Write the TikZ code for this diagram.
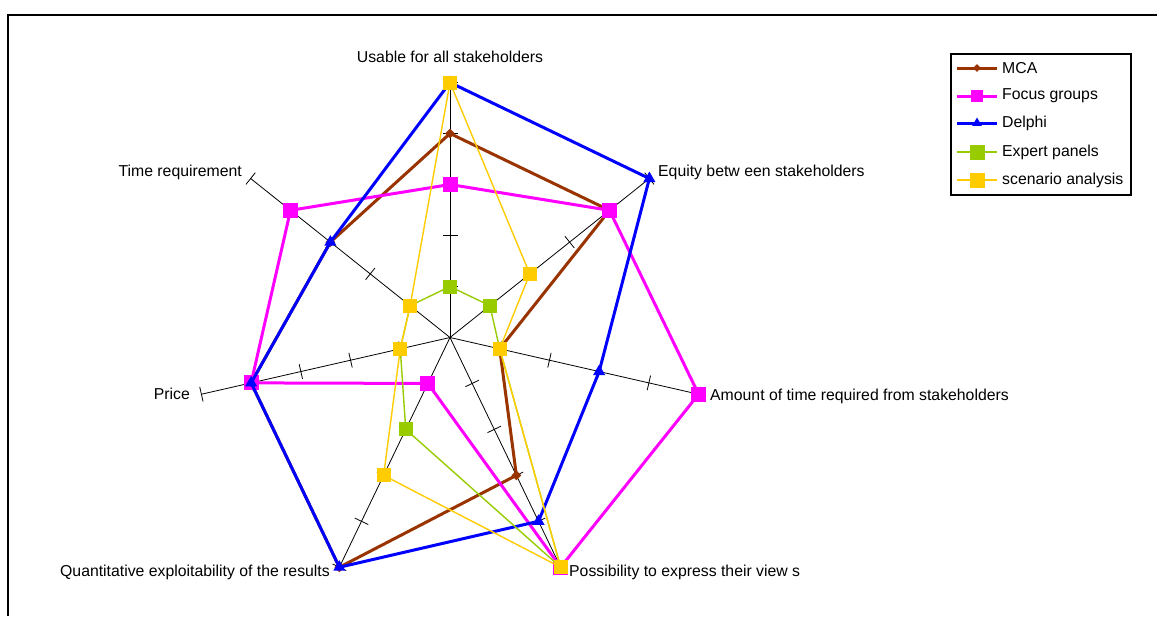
\documentclass[tikz,border=0pt]{standalone}
\usepackage{fontspec}
\setmainfont{Liberation Sans}
\usetikzlibrary{calc,shapes.geometric}
\definecolor{cmca}{RGB}{153,51,0}
\definecolor{cfocus}{RGB}{255,0,255}
\definecolor{cdelphi}{RGB}{0,0,255}
\definecolor{cexpert}{RGB}{153,204,0}
\definecolor{cscen}{RGB}{255,204,0}
\begin{document}
\begin{tikzpicture}[x=1pt,y=-1pt,
  font=\fontsize{15.8}{18}\selectfont,
  axisline/.style={black,line width=0.8pt},
  frameline/.style={black,line width=2pt},
  mcaline/.style={cmca,line width=3pt,line join=round},
  focusline/.style={cfocus,line width=3pt,line join=round},
  delphiline/.style={cdelphi,line width=3pt,line join=round},
  expertline/.style={cexpert,line width=1.4pt,line join=round},
  scenline/.style={cscen,line width=1.4pt,line join=round},
  mcamark/.style={diamond,fill=cmca,inner sep=0pt,minimum size=10pt},
  focusmark/.style={rectangle,fill=cfocus,inner sep=0pt,minimum size=15pt},
  delphimark/.style={regular polygon,regular polygon sides=3,fill=cdelphi,inner sep=0pt,minimum size=14pt},
  expertmark/.style={rectangle,fill=cexpert,inner sep=0pt,minimum size=14pt},
  scenmark/.style={rectangle,fill=cscen,inner sep=0pt,minimum size=14pt},
  legmca/.style={mcamark,minimum size=8pt},
  legfocus/.style={focusmark,minimum size=12pt},
  legdelphi/.style={delphimark,minimum size=11pt},
  legexpert/.style={expertmark,minimum size=15pt},
  legscen/.style={scenmark,minimum size=15pt},
  axislabel/.style={inner sep=0pt,text=black},
]
\useasboundingbox (0,0) rectangle (1157,616);
\fill[white] (0,0) rectangle (1157,616);
\draw[frameline] (8,616) -- (8,15) -- (1157,15);

\coordinate (C) at (450,337.5);
% axes and ticks
\foreach \k in {0,...,6}{
  \path (C) ++({\k*360/7-90}:255) coordinate (A\k);
  \draw[axisline] (C) -- (A\k);
  \foreach \v in {1,...,5}{
    \draw[axisline] ($(C)+({\k*360/7-90}:{\v*51})+({\k*360/7}:7.5)$) -- ($(C)+({\k*360/7-90}:{\v*51})+({\k*360/7-180}:7.5)$);
  }
}

% axis labels
\node[axislabel,anchor=base] (L0) at (450,62) {Usable for all stakeholders};
\node[axislabel,anchor=base west] (L1) at (658,176) {Equity betw een stakeholders};
\node[axislabel,anchor=base west] (L2) at (710,400) {Amount of time required from stakeholders};
\node[axislabel,anchor=base west] (L3) at (569,576) {Possibility to express their view s};
\node[axislabel,anchor=base east] (L4) at (330,576) {Quantitative exploitability of the results};
\node[axislabel,anchor=base east] (L5) at (190,399) {Price};
\node[axislabel,anchor=base east] (L6) at (242,176) {Time requirement};

% data points
\foreach \v [count=\i from 0] in {4,4,1,3,5,4,3}{\path (C) ++({\i*360/7-90}:{\v*51}) coordinate (m\i);}
\foreach \v [count=\i from 0] in {3,4,5,5,1,4,4}{\path (C) ++({\i*360/7-90}:{\v*51}) coordinate (f\i);}
\foreach \v [count=\i from 0] in {5,5,3,4,5,4,3}{\path (C) ++({\i*360/7-90}:{\v*51}) coordinate (d\i);}
\foreach \v [count=\i from 0] in {1,1,1,5,2,1,1}{\path (C) ++({\i*360/7-90}:{\v*51}) coordinate (e\i);}
\foreach \v [count=\i from 0] in {5,2,1,5,3,1,1}{\path (C) ++({\i*360/7-90}:{\v*51}) coordinate (s\i);}

% series
\draw[mcaline] (m0) -- (m1) -- (m2) -- (m3) -- (m4) -- (m5) -- (m6) -- cycle;
\foreach \i in {0,...,6}{\node[mcamark] (mm\i) at (m\i) {};}
\draw[focusline] (f0) -- (f1) -- (f2) -- (f3) -- (f4) -- (f5) -- (f6) -- cycle;
\foreach \i in {0,...,6}{\node[focusmark] (fm\i) at (f\i) {};}
\draw[delphiline] (d0) -- (d1) -- (d2) -- (d3) -- (d4) -- (d5) -- (d6) -- cycle;
\foreach \i in {0,...,6}{\node[delphimark] (dm\i) at (d\i) {};}
\draw[expertline] (e0) -- (e1) -- (e2) -- (e3) -- (e4) -- (e5) -- (e6) -- cycle;
\foreach \i in {0,...,6}{\node[expertmark] (em\i) at (e\i) {};}
\draw[scenline] (s0) -- (s1) -- (s2) -- (s3) -- (s4) -- (s5) -- (s6) -- cycle;
\foreach \i in {0,...,6}{\node[scenmark] (sm\i) at (s\i) {};}

% legend
\draw[black,line width=1.5pt,fill=white] (951,54) rectangle (1131,195);
\foreach \y/\ln/\mk/\txt [count=\j] in {68/mcaline/legmca/MCA,96/focusline/legfocus/Focus groups,123/delphiline/legdelphi/Delphi,152/expertline/legexpert/Expert panels,180/scenline/legscen/scenario analysis}{
  \coordinate (la\j) at (957,\y);
  \coordinate (lb\j) at (997,\y);
  \draw[\ln] (la\j) -- (lb\j);
  \node[\mk] (lm\j) at (977,\y) {};
  \node[axislabel,anchor=west] (lt\j) at (1002,\y) {\txt};
}
\end{tikzpicture}
\end{document}
